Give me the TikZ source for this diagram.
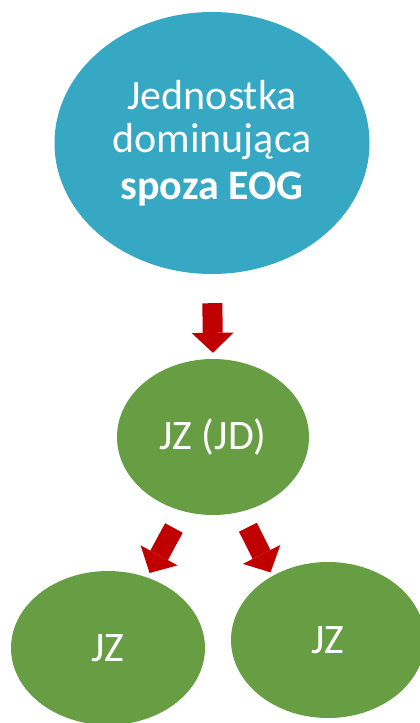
\documentclass[tikz,border=0pt]{standalone}
\usepackage{fontspec}
\setmainfont{Carlito}
\usetikzlibrary{shapes.geometric,arrows.meta}
\definecolor{eogblue}{HTML}{36A8C4}
\definecolor{jzgreen}{HTML}{689E43}
\definecolor{arrowred}{HTML}{C00000}
\begin{document}
\begin{tikzpicture}[
    x=1pt, y=-1pt,
    unit/.style={ellipse, fill=#1, text=white, align=center, inner sep=0pt, font=\fontsize{42}{47}\selectfont},
    every edge/.style={draw=arrowred, line width=20pt, -{Triangle[width=42pt, length=20pt, line width=0pt]}}
    ]
    \useasboundingbox (0,0) rectangle (420,723);

    \node[unit=eogblue, minimum width=315pt, minimum height=262pt] (parent) at (212,143) {\raisebox{-4pt}{Jednostka}\\dominująca\\\textbf{spoza EOG}};
    \node[unit=jzgreen, minimum width=192pt, minimum height=156pt] (jzjd) at (213,437) {JZ (JD)};

    \node[unit=jzgreen, minimum width=194pt, minimum height=154pt] (jzleft) at (108,648) {JZ};
    \node[unit=jzgreen, minimum width=194pt, minimum height=156pt] (jzright) at (328,640) {JZ};

    \path (parent.south) edge[shorten <=29pt, shorten >=6pt] (jzjd.north);
    \path (jzjd.-112) edge[shorten <=19pt, shorten >=5pt] (jzleft.61);
    \path (jzjd.-70) edge[shorten <=17pt, shorten >=4pt] (jzright.131.5);

\end{tikzpicture}
\end{document}
